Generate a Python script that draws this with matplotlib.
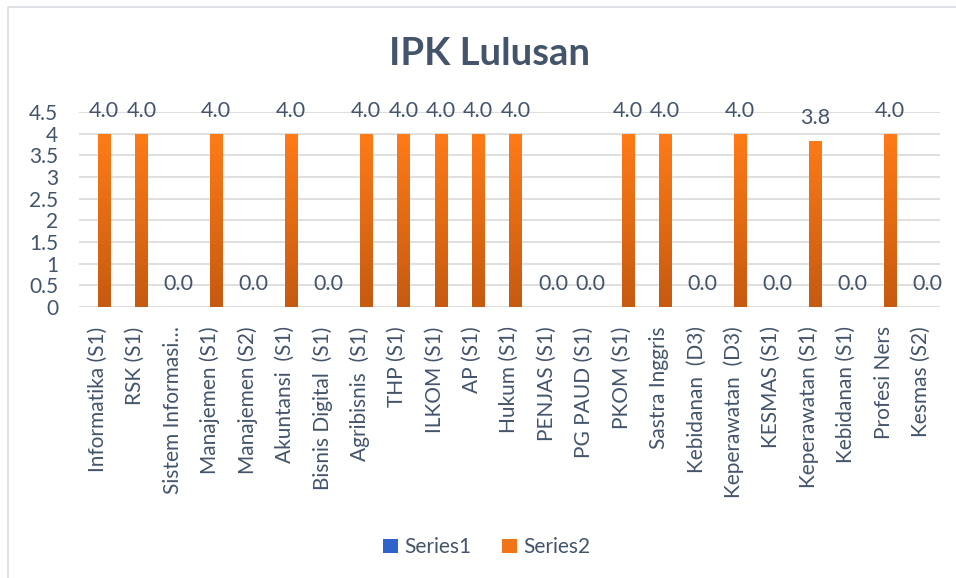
import matplotlib.pyplot as plt
import numpy as np
from matplotlib.colors import LinearSegmentedColormap

# data
prodi = ['Informatika (S1)', 'RSK (S1)', 'Sistem Informasi…', 'Manajemen (S1)',
         'Manajemen (S2)', 'Akuntansi  (S1)', 'Bisnis Digital  (S1)', 'Agribisnis  (S1)',
         'THP (S1)', 'ILKOM (S1)', 'AP (S1)', 'Hukum (S1)', 'PENJAS (S1)',
         'PG PAUD (S1)', 'PKOM (S1)', 'Sastra Inggris', 'Kebidanan  (D3)',
         'Keperawatan  (D3)', 'KESMAS (S1)', 'Keperawatan (S1)', 'Kebidanan (S1)',
         'Profesi Ners', 'Kesmas (S2)']
series1 = [0] * len(prodi)
series2 = [4.0, 4.0, 0.0, 4.0, 0.0, 4.0, 0.0, 4.0, 4.0, 4.0, 4.0, 4.0, 0.0,
           0.0, 4.0, 4.0, 0.0, 4.0, 0.0, 3.84, 0.0, 4.0, 0.0]

txt = '#44546A'
plt.rcParams['font.family'] = ['Lato', 'DejaVu Sans']

fig = plt.figure(figsize=(9.56, 5.78), dpi=100)
ax = fig.add_axes([0.0826, 0.469, 0.9004, 0.337])

x = np.arange(len(prodi))
w = 1 / 3
b1 = ax.bar(x - w / 2, series1, w, color='#2E64C9', label='Series1')
b2 = ax.bar(x + w / 2, series2, w, color='#F07518', label='Series2')

orange = LinearSegmentedColormap.from_list('o', ['#C55A11', '#FF7B17'])
grad = np.linspace(0, 1, 256).reshape(-1, 1)
for r in b2:
    if r.get_height() <= 0:
        continue
    x0 = r.get_x()
    im = ax.imshow(grad, cmap=orange, origin='lower', aspect='auto',
                   extent=[x0, x0 + r.get_width(), 0, 4.0], zorder=3)
    im.set_clip_path(r)
    r.set_zorder(3)

for r, v in zip(b2, series2):
    ax.annotate('%.1f' % v, (r.get_x() + r.get_width() / 2, v),
                xytext=(0, 9), textcoords='offset points',
                ha='center', va='bottom', fontsize=15.5, color=txt)

ax.set_xlim(-0.5, len(prodi) - 0.5)
ax.set_ylim(0, 4.5)
ax.set_yticks(np.arange(0, 4.6, 0.5))
ax.set_yticklabels(['0', '0.5', '1', '1.5', '2', '2.5', '3', '3.5', '4', '4.5'])
ax.set_xticks(x)
ax.set_xticklabels(prodi, rotation=90, ha='center', va='top')
ax.tick_params(axis='y', length=0, pad=15, labelsize=15, labelcolor=txt)
ax.tick_params(axis='x', length=0, pad=14, labelsize=15, labelcolor=txt)
ax.grid(axis='y', color='#D9D9D9', linewidth=1.2)
ax.set_axisbelow(True)
for s in ax.spines.values():
    s.set_visible(False)

fig.text(0.512, 0.907, 'IPK Lulusan', ha='center', va='center',
         fontsize=27.5, fontweight='bold', color=txt)

leg = fig.legend(handles=[b1, b2], loc='center', bbox_to_anchor=(0.509, 0.053),
                 ncol=2, frameon=False, fontsize=15, handlelength=0.7,
                 handleheight=0.7, handletextpad=0.3, columnspacing=1.5)
for t in leg.get_texts():
    t.set_color(txt)

# chart area border (only the top and left edges are in the picture)
fig.add_artist(plt.Line2D([8 / 956, 8 / 956, 1], [0, 1 - 7 / 578, 1 - 7 / 578],
                          transform=fig.transFigure, color='#D9DDE3', linewidth=1.2))

fig.savefig('out.png', dpi=100)
